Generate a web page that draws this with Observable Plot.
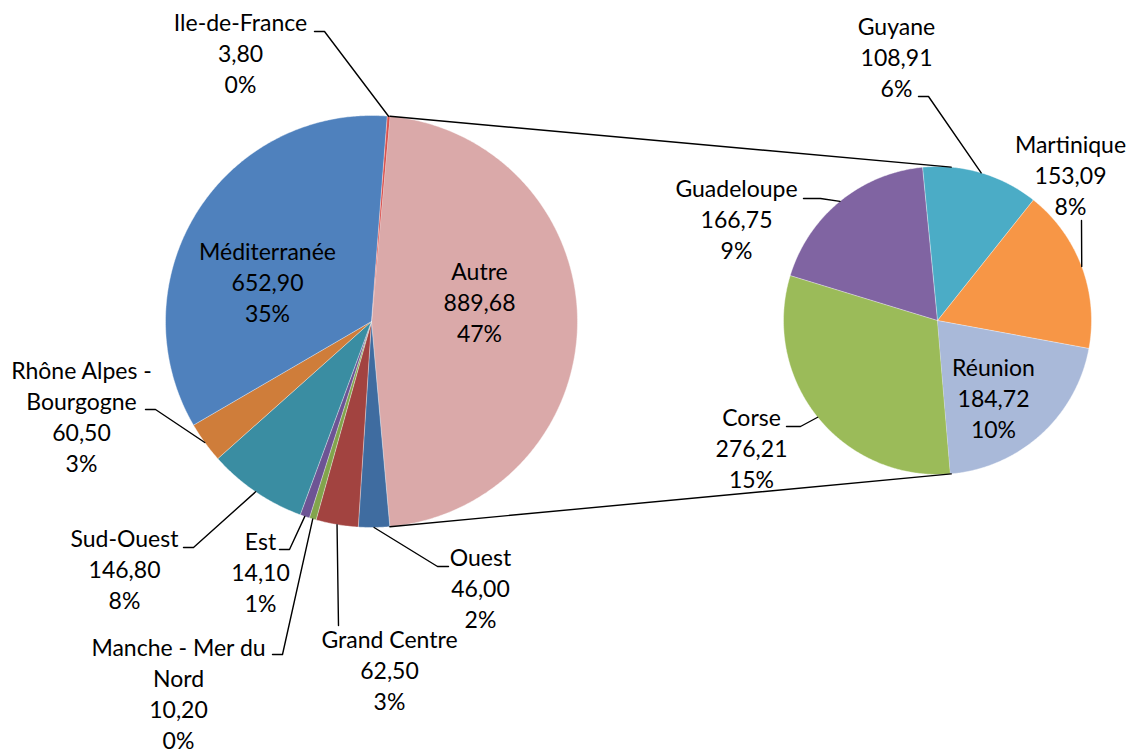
<!DOCTYPE html>
<html><head><meta charset="utf-8">
<script src="https://cdn.jsdelivr.net/npm/d3@7"></script>
<script src="https://cdn.jsdelivr.net/npm/@observablehq/plot@0.6"></script>
<style>body{margin:0;background:#fff} svg{display:block}</style>
</head><body><div id="chart"></div>
<script>
// ---- data ----
const mainNames = ["Autre","Ouest","Grand Centre","Manche - Mer du Nord","Est","Sud-Ouest","Rhône Alpes - Bourgogne","Méditerranée","Ile-de-France"];
const mainLabelText = ["Autre","Ouest","Grand Centre","Manche - Mer du\nNord","Est","Sud-Ouest","Rhône Alpes -\nBourgogne","Méditerranée","Ile-de-France"];
const mainValues = [889.68,46.00,62.50,10.20,14.10,146.80,60.50,652.90,3.80];
const mainPct = ["47%","2%","3%","0%","1%","8%","3%","35%","0%"];
const subNames = ["Corse","Guadeloupe","Guyane","Martinique","Réunion"];
const subValues = [276.21,166.75,108.91,153.09,184.72];
const subPct = ["15%","9%","6%","8%","10%"];

// ---- styles ----
const mainColors = ["#DAA9A9","#3F6CA0","#A24340","#82A54C","#6D5494","#3A8DA2","#CF7D3A","#4F81BD","#D9534F"];
const subColors = ["#9BBB59","#8064A2","#4BACC6","#F79646","#A9B9D9"];
const FONT = 23;

// ---- layout ----
const W = 1130, H = 754;
const C1 = {x: 371, y: 321, r: 206};
const C2 = {x: 937, y: 320, r: 154};
const subStart = 175.2;
const mainLabelPos = [[479,304],[480,590],[389,672],[178,695],[260,574],[124,571],[81,418],[267,284],[240,55]];
const mainLeader = [null,[[448,566],[437,566]],[[338,625]],[[272,654],[282,654]],[[279,549],[289,549]],[[183,547],[193,547]],[[145,409],[155,409]],null,[[314,31],[324,31]]];
const subLabelPos = [[751,450],[736,221],[896,59],[1070,177],[993,400]];
const subLeader = [[[786,426],[800,426]],[[803,198],[820,198]],[[918,96],[928,96]],[[1081,220]],null];
const textDy = -3;

const fmt = v => v.toFixed(2).replace(".", ",");
const pt = (C, deg, r = C.r) => [C.x + r * Math.sin(deg * Math.PI / 180), C.y - r * Math.cos(deg * Math.PI / 180)];

function makeSlices(values, start, C) {
  const total = d3.sum(values);
  let a = start;
  return values.map(v => { const span = v / total * 360; const s = {a0: a, a1: a + span, mid: a + span / 2, C}; a += span; return s; });
}
const mainTotal = d3.sum(mainValues);
const autreSpan = mainValues[0] / mainTotal * 360;
const mainSlices = makeSlices(mainValues, 90 - autreSpan / 2, C1);
const subSlices = makeSlices(subValues, subStart, C2);

const sliceRows = [];
function addSlices(slices, colors, prefix) {
  slices.forEach((s, i) => {
    const key = prefix + i;
    sliceRows.push({x: s.C.x, y: s.C.y, key, color: colors[i]});
    const n = Math.max(2, Math.ceil((s.a1 - s.a0) / 0.5));
    for (let k = 0; k <= n; k++) {
      const [x, y] = pt(s.C, s.a0 + (s.a1 - s.a0) * k / n);
      sliceRows.push({x, y, key, color: colors[i]});
    }
  });
}
addSlices(mainSlices, mainColors, "m");
addSlices(subSlices, subColors, "s");

const labels = [];
mainNames.forEach((n, i) => labels.push({x: mainLabelPos[i][0], y: mainLabelPos[i][1] + textDy, text: `${mainLabelText[i]}\n${fmt(mainValues[i])}\n${mainPct[i]}`}));
subNames.forEach((n, i) => labels.push({x: subLabelPos[i][0], y: subLabelPos[i][1] + textDy, text: `${n}\n${fmt(subValues[i])}\n${subPct[i]}`}));

const leaderRows = [];
function addLeaders(slices, leaders, prefix) {
  slices.forEach((s, i) => {
    if (!leaders[i]) return;
    const key = prefix + i;
    leaders[i].forEach(([x, y]) => leaderRows.push({x, y, key}));
    const [x, y] = pt(s.C, s.mid);
    leaderRows.push({x, y, key});
  });
}
addLeaders(mainSlices, mainLeader, "m");
addLeaders(subSlices, subLeader, "s");

// connectors between the "Autre" slice and the secondary pie
const autre = mainSlices[0];
const connRows = [];
[autre.a0, autre.a1].forEach((a, i) => {
  const [x1, y1] = pt(C1, a); const [x2, y2] = pt(C2, a);
  connRows.push({x: x1, y: y1, key: "c" + i}, {x: x2, y: y2, key: "c" + i});
});

const chart = Plot.plot({
  width: W, height: H, margin: 0,
  x: {domain: [0, W], range: [0, W], axis: null},
  y: {domain: [0, H], range: [0, H], axis: null},
  style: {background: "white"},
  marks: [
    Plot.line(sliceRows, {x: "x", y: "y", z: "key", fill: "color", stroke: "white", strokeWidth: 0.6, strokeOpacity: 0.7, curve: "linear"}),
    Plot.line(connRows, {x: "x", y: "y", z: "key", stroke: "black", strokeWidth: 1.4}),
    Plot.line(leaderRows, {x: "x", y: "y", z: "key", stroke: "black", strokeWidth: 1.4}),
    Plot.text(labels, {x: "x", y: "y", text: "text", fontSize: FONT, lineHeight: 31 / FONT, textAnchor: "middle", fill: "black", fontFamily: "Lato"})
  ]
});
document.getElementById("chart").append(chart);
</script>
</body></html>
